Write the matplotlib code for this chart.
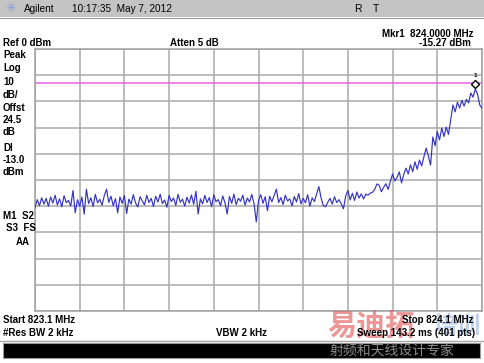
import numpy as np
import matplotlib
matplotlib.use("Agg")
import matplotlib.pyplot as plt
from matplotlib.patches import Rectangle
from matplotlib.lines import Line2D
from matplotlib.transforms import offset_copy

plt.rcParams['font.family'] = ['Liberation Sans', 'Noto Sans CJK SC', 'DejaVu Sans']

# ---------------- data ----------------
start_mhz = 823.1
stop_mhz = 824.1
ref_dbm = 0.0
db_per_div = 10.0
display_line_dbm = -13.0
marker_freq_mhz = 824.085
marker_dbm = -15.3

trace_dbm = [
    -60.5, -57.5, -59.8, -56.8, -59.2, -57.0, -60.0, -56.5, -58.8, -55.8,
    -59.5, -57.2, -60.2, -56.0, -58.6, -57.8, -59.9,
    -54.0, -62.5, -57.5, -60.0, -56.5, -63.0, -53.5,
    -59.0, -56.8, -60.1, -55.5, -58.7, -57.4, -59.6, -56.0,
    -53.5, -58.5, -56.2, -59.8, -57.1,
    -62.5, -56.5, -58.9, -55.9, -62.8,
    -57.3, -59.2, -55.6, -58.8, -60.3, -56.4, -58.0, -59.5, -55.8, -58.6,
    -57.0, -60.1, -56.2, -58.4, -55.4, -59.0, -57.6, -60.4, -55.9, -58.2,
    -56.9, -59.7, -55.5, -58.5, -57.3, -60.0, -56.6, -58.8, -55.7, -59.3,
    -54.3, -63.0,
    -57.2, -59.1, -55.9, -58.6, -56.7, -60.2, -55.6, -58.3, -57.5, -59.8, -56.1, -58.7,
    -63.0,
    -56.3, -58.9, -55.4, -59.4, -57.0, -58.1, -55.8, -59.6, -56.9, -58.4, -55.5, -59.0,
    -66.0,
    -57.8, -55.6, -58.9, -56.4,
    -61.7, -56.2, -58.3, -55.9, -53.5,
    -58.6, -56.7, -59.4, -55.8, -58.0, -57.2, -59.9, -56.3, -58.4, -55.2,
    -59.1, -57.0, -58.7, -55.6, -60.0, -56.8, -58.2, -55.3,
    -52.5,
    -56.8, -59.8, -60.2, -58.5,
    -57.0, -59.2, -56.4, -58.6, -57.5, -59.0,
    -61.0,
    -56.2, -54.0, -57.6, -55.1, -57.8, -54.6, -56.9, -55.3, -57.2,
    -55.4, -55.8, -55.0, -54.7, -53.6,
    -51.5, -52.0, -54.5, -52.8, -51.4, -53.6, -50.5, -47.7, -50.4, -49.0,
    -46.9, -51.1, -47.8, -45.5, -47.7, -44.2, -46.8, -43.1, -45.9, -42.4,
    -44.6, -41.2, -37.8, -40.9, -44.3, -33.6, -36.9, -31.5, -34.7, -30.2,
    -33.4, -29.8, -32.6, -27.0, -21.4, -24.0, -20.3, -22.5, -19.6, -21.8,
    -19.2, -20.6, -16.8, -18.4, -15.3, -17.2, -21.4, -22.6,
]

top_bar_texts = ["Agilent", "10:17:35  May 7, 2012", "R", "T"]
left_labels = ["Peak", "Log", "10", "dB/", "Offst", "24.5", "dB", "Dl", "-13.0", "dBm"]

# ---------------- figure ----------------
W, H = 484, 363
fig = plt.figure(figsize=(W / 100, H / 100), dpi=100)
fig.patch.set_facecolor('white')

def fx(px):
    return px / W

def fy(py):
    return 1 - py / H

def txt(x, y, s, ha='left', bold=True, size=7, color='black', **kw):
    fig.text(fx(x), fy(y), s, ha=ha, va='center', fontsize=size,
             fontweight='bold' if bold else 'normal', color=color, **kw)

# top bar
fig.add_artist(Rectangle((0, fy(17)), 1, 17 / H, transform=fig.transFigure,
                         facecolor='#c4c4c4', edgecolor='none'))
fig.add_artist(Line2D([0, 1], [fy(17.5), fy(17.5)], transform=fig.transFigure,
                      color='#9a9a9a', lw=0.8))
txt(11, 8.5, '\u2733', ha='center', bold=False, size=9, color='#7f9fe0',
    family=['DejaVu Sans'])
txt(24, 8.5, top_bar_texts[0], bold=False, size=7.2)
txt(72, 8.5, top_bar_texts[1], bold=False, size=7.2)
txt(354, 8.5, top_bar_texts[2], bold=False, size=7.5)
txt(373, 8.5, top_bar_texts[3], bold=False, size=7.5)

# header texts
txt(474, 34, "Mkr1  824.0000 MHz", ha='right')
txt(3, 43, "Ref 0 dBm")
txt(170, 43, "Atten 5 dB")
txt(471, 43, "-15.27 dBm", ha='right')

# left labels
left_y = [55, 68, 82, 95, 108, 120, 132, 148, 160, 172]
for s, y in zip(left_labels, left_y):
    txt(3, y, s)
txt(3, 216, "M1  S2")
txt(6, 228, "S3  FS")
txt(16, 242, "AA")

# bottom black bar
fig.add_artist(Line2D([0, 1], [fy(341), fy(341)], transform=fig.transFigure,
                      color='#a8a8a8', lw=1.0))
fig.add_artist(Rectangle((fx(3), fy(358)), fx(477), 15 / H, transform=fig.transFigure,
                         facecolor='black', edgecolor='#9a9a9a', lw=0.8))

# watermark (drawn beneath the bottom texts)
fig.text(fx(327), fy(326), "易迪拓", fontsize=21, color='#e05050', alpha=0.6,
         ha='left', va='center', family=['Noto Sans CJK SC'], fontweight='bold',
         zorder=0)
fig.text(fx(433), fy(326), "培训", fontsize=17, color='#8aa8d8', alpha=0.55,
         ha='left', va='center', family=['Noto Sans CJK SC'], fontweight='bold',
         zorder=0)
fig.text(fx(330), fy(351), "射频和天线设计专家", fontsize=10, color='#8a8a8a',
         ha='left', va='center', family=['Noto Sans CJK SC'])

# bottom texts
txt(3, 320, "Start 823.1 MHz")
txt(474, 320, "Stop 824.1 MHz", ha='right')
txt(3, 333, "#Res BW 2 kHz")
txt(242, 333, "VBW 2 kHz", ha='center')
txt(475, 333, "Sweep 143.2 ms (401 pts)", ha='right')

# ---------------- plot area ----------------
ax = fig.add_axes([fx(35), fy(311), fx(482 - 35), (311 - 49) / H])
freqs = np.linspace(start_mhz, stop_mhz, len(trace_dbm))
bottom_dbm = ref_dbm - 10 * db_per_div
ax.set_xlim(start_mhz, stop_mhz)
ax.set_ylim(bottom_dbm, ref_dbm)
ax.set_xticks(np.linspace(start_mhz, stop_mhz, 11))
ax.set_yticks(np.linspace(bottom_dbm, ref_dbm, 11))
ax.grid(True, color='#a9a9a9', lw=1.1)
ax.tick_params(length=0, labelbottom=False, labelleft=False)
for sp in ax.spines.values():
    sp.set_color('#a0a0a0')
    sp.set_linewidth(1.1)
ax.set_facecolor('white')

ax.axhline(display_line_dbm, color='#e860e8', lw=1.1, zorder=3)
ax.plot(freqs, trace_dbm, color='#3434c4', lw=0.85, zorder=4)

mtrans = offset_copy(ax.transData, fig=fig, y=5, units='dots')
ax.plot([marker_freq_mhz], [marker_dbm], marker='D', ms=4, mfc='white',
        mec='black', mew=1.0, transform=mtrans, zorder=6, clip_on=False)
mtrans2 = offset_copy(ax.transData, fig=fig, y=14, units='dots')
ax.text(marker_freq_mhz, marker_dbm, '1', fontsize=4.5, ha='center', va='center',
        transform=mtrans2, zorder=6, fontweight='bold')

fig.savefig('out.png', dpi=100)
